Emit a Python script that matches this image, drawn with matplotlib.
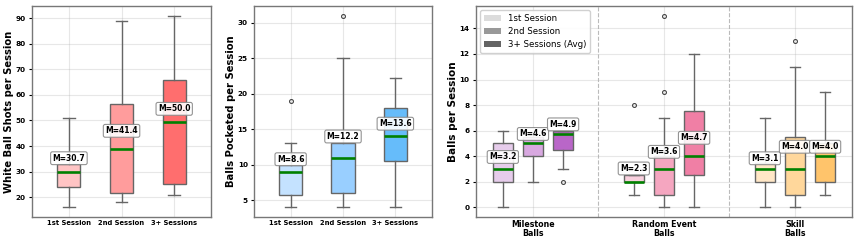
import matplotlib.pyplot as plt
from matplotlib.patches import Patch

# Data (box statistics per group)
sessions = ['1st Session', '2nd Session', '3+ Sessions']

# white ball shots per session
shots_low = [16, 18, 21]
shots_q1 = [24, 21.5, 25]
shots_med = [30, 39, 49.5]
shots_q3 = [33, 56.5, 66]
shots_high = [51, 89, 91]
shots_mean = [30.7, 41.4, 50.0]
shots_fliers = [[], [], []]

# balls pocketed per session
pocket_low = [4, 4, 4]
pocket_q1 = [5.8, 6, 10.5]
pocket_med = [9, 11, 14]
pocket_q3 = [10, 13, 18]
pocket_high = [13, 25, 22.25]
pocket_mean = [8.6, 12.2, 13.6]
pocket_fliers = [[19], [31], []]

# balls per session by ball type (rows = ball type, columns = session)
ball_types = ['Milestone\nBalls', 'Random Event\nBalls', 'Skill\nBalls']
legend_labels = ['1st Session', '2nd Session', '3+ Sessions (Avg)']
balls_low = [[0, 2, 3], [1, 0, 0], [0, 0, 1]]
balls_q1 = [[2, 4, 4.5], [2, 1, 2.5], [2, 1, 2]]
balls_med = [[3, 5, 5.75], [2, 3, 4], [3, 3, 4]]
balls_q3 = [[5, 5.5, 6], [2.5, 4, 7.5], [3.5, 5.5, 5]]
balls_high = [[6, 5.75, 6], [2.5, 7, 12], [7, 11, 9]]
balls_mean = [[3.2, 4.6, 4.9], [2.3, 3.6, 4.7], [3.1, 4.0, 4.0]]
balls_fliers = [[[], [], [2]], [[8], [9, 15], []], [[], [13], []]]

# colours
red_colors = ['#ffc4c4', '#ff9c9c', '#ff6e6e']
blue_colors = ['#c4e2ff', '#99cfff', '#66bcfa']
type_colors = [['#e6cceb', '#d8a8e0', '#b966c8'],
               ['#f9d0de', '#f5a6c0', '#f07fa5'],
               ['#ffe7c6', '#ffd79b', '#ffc46b']]
legend_colors = ['#dcdcdc', '#999999', '#646464']

EDGE = '#666666'


def draw_boxes(ax, positions, low, q1, med, q3, high, fliers, colors, width):
    stats = []
    for a, b, c, d, e, f in zip(low, q1, med, q3, high, fliers):
        stats.append(dict(whislo=a, q1=b, med=c, q3=d, whishi=e, fliers=f))
    bp = ax.bxp(stats, positions=positions, widths=width, patch_artist=True,
                manage_ticks=False,
                boxprops=dict(edgecolor=EDGE, linewidth=1),
                whiskerprops=dict(color=EDGE, linewidth=1),
                capprops=dict(color=EDGE, linewidth=1),
                medianprops=dict(color='green', linewidth=1.9),
                flierprops=dict(marker='o', markersize=2.8, markerfacecolor='none',
                                markeredgecolor='#444444', markeredgewidth=0.8))
    for patch, c in zip(bp['boxes'], colors):
        patch.set_facecolor(c)
    return bp


def add_mean_labels(ax, positions, means, medians, frac, size):
    lo, hi = ax.get_ylim()
    for x, m, md in zip(positions, means, medians):
        ax.text(x, max(m, md) + frac * (hi - lo), f'M={m:.1f}', ha='center', va='center',
                fontsize=size, fontweight='bold', zorder=6,
                bbox=dict(boxstyle='round,pad=0.25', facecolor='white',
                          edgecolor='#888888', linewidth=0.8, alpha=0.9))


def style_axes(ax, ylabel, ylab_size, xtick_size, xpad):
    ax.set_ylabel(ylabel, fontsize=ylab_size, fontweight='bold', labelpad=1.5)
    ax.grid(True, alpha=0.3)
    ax.set_axisbelow(True)
    for s in ax.spines.values():
        s.set_color('#777777')
        s.set_linewidth(1)
    ax.tick_params(axis='y', labelsize=5.2, length=2.5, width=0.8, pad=2)
    ax.tick_params(axis='x', labelsize=xtick_size, length=0, pad=xpad)
    for t in ax.get_yticklabels() + ax.get_xticklabels():
        t.set_fontweight('bold')


fig = plt.figure(figsize=(8.59, 2.42), dpi=100)
ax1 = fig.add_axes([0.0373, 0.1033, 0.2084, 0.872])
ax2 = fig.add_axes([0.2957, 0.1033, 0.2072, 0.872])
ax3 = fig.add_axes([0.5541, 0.1033, 0.4377, 0.872])

# panel 1
pos = [1, 2, 3]
draw_boxes(ax1, pos, shots_low, shots_q1, shots_med, shots_q3, shots_high,
           shots_fliers, red_colors, 0.44)
ax1.set_xlim(0.3, 3.7)
ax1.autoscale(axis='y')
ax1.set_xticks(pos)
ax1.set_xticklabels(sessions)
style_axes(ax1, 'White Ball Shots per Session', 7.2, 4.9, 2)
add_mean_labels(ax1, pos, shots_mean, shots_med, 0.055, 5.5)

# panel 2
draw_boxes(ax2, pos, pocket_low, pocket_q1, pocket_med, pocket_q3, pocket_high,
           pocket_fliers, blue_colors, 0.44)
ax2.set_xlim(0.3, 3.7)
ax2.set_xticks(pos)
ax2.set_xticklabels(sessions)
ax2.set_yticks([5, 10, 15, 20, 25, 30])
style_axes(ax2, 'Balls Pocketed per Session', 7.2, 4.9, 2)
add_mean_labels(ax2, pos, pocket_mean, pocket_med, 0.06, 5.5)

# panel 3
offset = 0.23
all_pos = []
for g in range(len(ball_types)):
    gpos = [g + (j - 1) * offset for j in range(3)]
    all_pos.append(gpos)
    draw_boxes(ax3, gpos, balls_low[g], balls_q1[g], balls_med[g], balls_q3[g],
               balls_high[g], balls_fliers[g], type_colors[g], 0.15)
ax3.set_xlim(-0.435, 2.435)
ax3.set_xticks(range(len(ball_types)))
ax3.set_xticklabels(ball_types, linespacing=1.0)
ax3.set_yticks(range(0, 15, 2))
for sep in [0.5, 1.5]:
    ax3.axvline(sep, color='#bbbbbb', linestyle='--', linewidth=0.8, zorder=0)
style_axes(ax3, 'Balls per Session', 7.5, 5.7, 2)
for g in range(len(ball_types)):
    add_mean_labels(ax3, all_pos[g], balls_mean[g], balls_med[g], 0.045, 5.5)

handles = [Patch(facecolor=c, edgecolor='none') for c in legend_colors]
ax3.legend(handles, legend_labels, loc='upper left', fontsize=6.2, framealpha=0.9,
           edgecolor='#cccccc')

fig.savefig('out.png', dpi=100)
